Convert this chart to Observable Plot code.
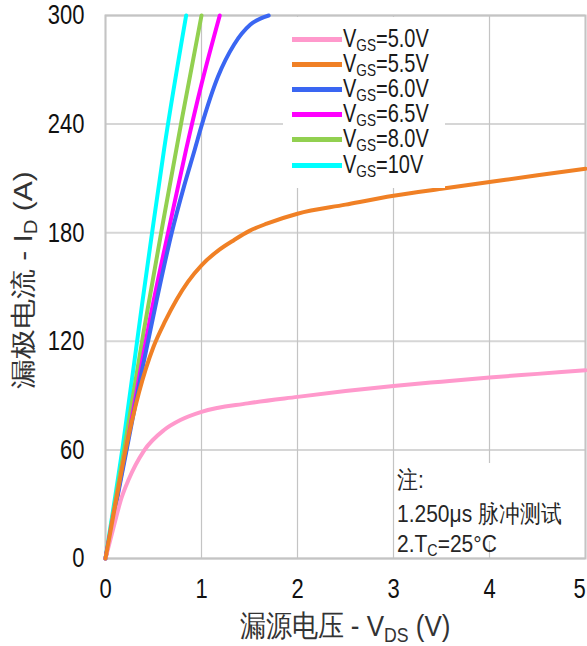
<!DOCTYPE html>
<html><head><meta charset="utf-8">
<script src="https://cdn.jsdelivr.net/npm/d3@7"></script>
<script src="https://cdn.jsdelivr.net/npm/@observablehq/plot@0.6"></script>
<style>
body{margin:0;background:#fff;}
#wrap{position:relative;width:587px;height:646px;font-family:"Liberation Sans",Arial,sans-serif;overflow:hidden;}
#wrap svg{position:absolute;left:0;top:0;}
.ov{position:absolute;white-space:nowrap;line-height:1;}
.box{position:absolute;background:#fff;}
.sub{font-size:0.68em;vertical-align:-0.28em;line-height:0;}
</style></head>
<body><div id="wrap"></div>
<script>
// ---- data ----
const xTicks = [0, 1, 2, 3, 4, 5];
const yTicks = [0, 60, 120, 180, 240, 300];
const vgsLabels = ["5.0V", "5.5V", "6.0V", "6.5V", "8.0V", "10V"];
const colors = ["#ff99cc", "#f08025", "#3a66f2", "#ff00ff", "#92d050", "#00ffff"];

const vds50 = [0, 0.08, 0.17, 0.24, 0.40, 0.61, 0.78, 1.0, 1.48, 2.0, 2.5, 3, 3.5, 4, 4.5, 5];
const id50  = [0, 16.5, 34, 43.5, 59.5, 71, 76.5, 81, 85.7, 89.3, 92.5, 95.3, 97.7, 100, 102, 104];
const vds55 = [0, 0.1, 0.21, 0.35, 0.5, 0.62, 0.74, 0.86, 1.0, 1.17, 1.34, 1.5, 1.68, 2.0, 2.5, 3, 3.5, 4, 4.5, 5];
const id55  = [0, 29, 60, 92, 117, 131, 143, 153, 162, 170, 176, 181, 185, 190.5, 195.5, 200.4, 204.3, 208, 211.7, 215.3];
const vds60 = [0, 0.22, 0.38, 0.53, 0.69, 0.82, 0.93, 1.0, 1.17, 1.34, 1.51, 1.70];
const id60  = [0, 60, 104, 142, 180, 206, 226, 239, 266, 284, 295, 300];
const vds65 = [0, 0.22, 0.5, 0.66, 0.84, 1.0, 1.19];
const id65  = [0, 62, 142, 182, 226, 262, 300];
const vds80 = [0, 0.2, 0.4, 0.6, 0.8, 1.0];
const id80  = [0, 62, 126, 186, 244, 300];
const vds10 = [0, 0.18, 0.38, 0.48, 0.61, 0.84];
const id10  = [0, 62, 140, 178, 226, 300];

const legendTitle = "V";
const legendSub = "GS";
const xTitle = ["漏源电压 - V", "DS", " (V)"];
const yTitle = ["漏极电流 - I", "D", " (A)"];
const noteLines = ["注:", "1.250μs 脉冲测试"];
const note3 = ["2.T", "C", "=25°C"];

const seriesX = [vds50, vds55, vds60, vds65, vds80, vds10];
const seriesY = [id50, id55, id60, id65, id80, id10];
const rows = [];
[5, 4, 3, 2, 0, 1].forEach(k => {
  seriesX[k].forEach((v, i) => rows.push({vgs: vgsLabels[k], vds: v, id: seriesY[k][i]}));
});

const W = 587, H = 646;
const mL = 105, mR = 2, mT = 15, mB = 88;
const SY = 1.25;

const chart = Plot.plot({
  width: W, height: H,
  marginLeft: mL, marginRight: mR, marginTop: mT, marginBottom: mB,
  style: {fontFamily: '"Liberation Sans", Arial, sans-serif', background: "#fff", color: "#111"},
  x: {domain: [0, 5]},
  y: {domain: [0, 300]},
  color: {domain: vgsLabels, range: colors},
  marks: [
    Plot.gridY(yTicks, {stroke: "#d6d6d6", strokeOpacity: 1, strokeWidth: 2}),
    Plot.gridX(xTicks, {stroke: "#c4c4c4", strokeOpacity: 1, strokeWidth: 1.2}),
    Plot.frame({stroke: "#c4c4c4", strokeWidth: 2}),
    Plot.line(rows, {x: "vds", y: "id", z: "vgs", stroke: "vgs", strokeWidth: 4, curve: "monotone-x", strokeLinecap: "round"}),
    Plot.axisX(xTicks, {tickSize: 0, tickPadding: 20, fontSize: 22, label: null, tickFormat: d => String(d)}),
    Plot.axisY(yTicks, {tickSize: 0, tickPadding: 21, fontSize: 22, label: null, tickFormat: d => String(d)})
  ]
});

// vertical stretch of tick labels, as in the reference
d3.select(chart).selectAll("g[aria-label$='tick label'] text").each(function () {
  const t = this.getAttribute("transform");
  if (t) this.setAttribute("transform", t + ` scale(1,${SY})`);
  else {
    const x = +this.getAttribute("x") || 0, y = +this.getAttribute("y") || 0;
    this.removeAttribute("x"); this.removeAttribute("y");
    this.setAttribute("transform", `translate(${x},${y}) scale(1,${SY})`);
  }
});
// keep the last x tick label inside the picture
const xl = d3.select(chart).selectAll("g[aria-label='x-axis tick label'] text").nodes();
if (xl.length) xl[xl.length - 1].setAttribute("dx", "-6");

const wrap = document.getElementById("wrap");
wrap.appendChild(chart);

function el(cls, css, html) {
  const d = document.createElement("div");
  d.className = cls; d.style.cssText = css; d.innerHTML = html || "";
  wrap.appendChild(d); return d;
}

// legend
el("box", "left:283px;top:17px;width:162px;height:171px;");
vgsLabels.forEach((lab, k) => {
  const cy = 39.5 + k * 25.1;
  el("box", `left:292px;top:${cy - 2.5}px;width:50px;height:5px;background:${colors[k]};`);
  el("ov", `left:343px;top:${cy - 1.5}px;font-size:20px;color:#1a1a1a;transform:translateY(-50%) scaleY(${SY});transform-origin:left center;`,
     `${legendTitle}<span class="sub">${legendSub}</span>=${lab}`);
});

// note box
el("box", "left:395px;top:463px;width:180px;height:78px;");
const noteY = [479, 513, 543];
noteLines.forEach((t, i) => {
  el("ov", `left:397px;top:${noteY[i]}px;font-size:21px;color:#262626;transform:translateY(-50%) scaleY(1.15);transform-origin:left center;`, t);
});
el("ov", `left:397px;top:${noteY[2]}px;font-size:21px;color:#262626;transform:translateY(-50%) scaleY(1.15);transform-origin:left center;`,
   `${note3[0]}<span class="sub">${note3[1]}</span>${note3[2]}`);

// axis titles
el("ov", `left:${(mL + W - mR) / 2}px;top:626px;font-size:26px;color:#333;transform:translate(-50%,-50%) scaleY(1.15);`,
   `${xTitle[0]}<span class="sub">${xTitle[1]}</span>${xTitle[2]}`);
el("ov", `left:23px;top:280px;font-size:26px;color:#333;transform:translate(-50%,-50%) rotate(-90deg) scaleX(1.15);`,
   `${yTitle[0]}<span class="sub">${yTitle[1]}</span>${yTitle[2]}`);
</script>
</body></html>
